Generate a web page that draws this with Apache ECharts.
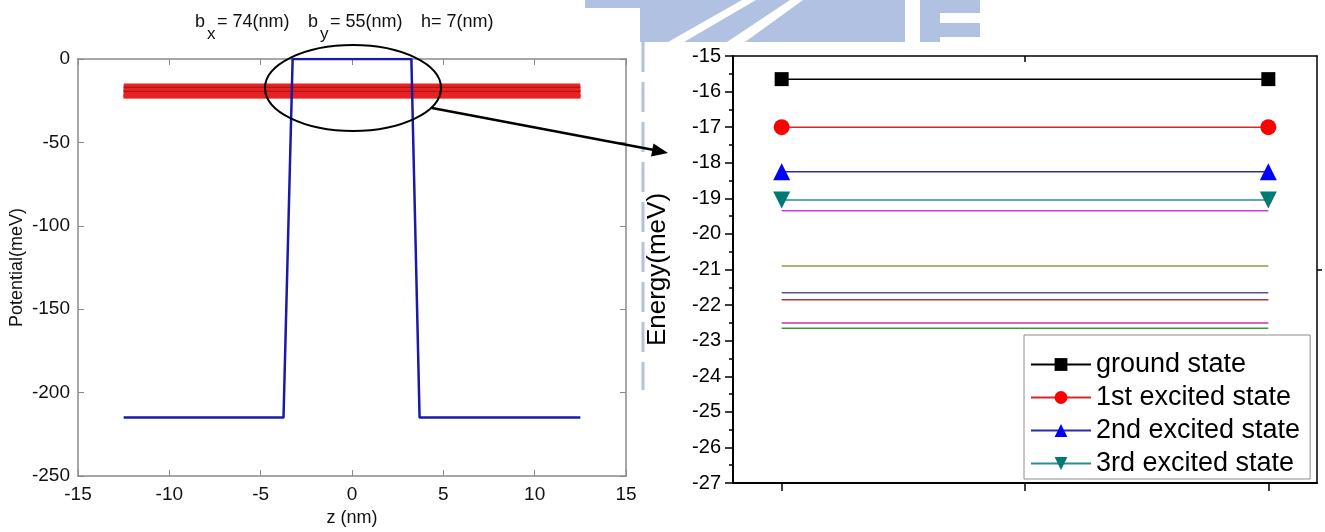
<!DOCTYPE html>
<html>
<head>
<meta charset="utf-8">
<script src="https://cdn.jsdelivr.net/npm/echarts@6/dist/echarts.min.js"></script>
<style>
  html, body { margin: 0; padding: 0; background: #fff; }
  #chart { width: 1325px; height: 532px; }
</style>
</head>
<body>
<div id="chart"></div>
<script>
// left panel: potential profile along z
const potZ = [-12.5, -3.75, -3.25, 3.25, 3.7, 12.5]
const potV = [-215, -215, 0, 0, -215, -215]
const bandZ = [-12.5, 12.5]

// energy levels (meV), first four are named in the legend
const levels = [-15.65, -17.0, -18.25, -19.05, -19.35, -20.9, -21.65, -21.85, -22.5, -22.65]
const stateNames = ['ground state', '1st excited state', '2nd excited state', '3rd excited state']
const levelX = [1, 2]

const font = 'Liberation Sans, Arial, sans-serif'
const gray = '#8a8a8a'

// styles for each right-panel level
const lineColors = ['#000000', '#d42a2a', '#2a2ab0', '#2a8f8f', '#d040d0', '#999940', '#555599', '#994040', '#cc3399', '#3a9a3a']
const markColors = ['#000000', '#ff0000', '#0000ff', '#007b73']
const markSymbols = ['rect', 'circle', 'triangle', 'triangle']
const markRotate = [0, 0, 0, 180]
const markSize = [14, 16, 17, 17]

const chart = echarts.init(document.getElementById('chart'))

const series = []

// red band of levels on the potential plot
levels.forEach((e, i) => {
  series.push({
    type: 'line',
    xAxisIndex: 0,
    yAxisIndex: 0,
    data: bandZ.map(z => [z, e]),
    symbol: 'none',
    silent: true,
    lineStyle: { color: '#e82323', width: 3.2 },
    z: 2
  })
})
// a couple of darker strands inside the band
;[1, 4].forEach(i => {
  series.push({
    type: 'line',
    xAxisIndex: 0,
    yAxisIndex: 0,
    data: bandZ.map(z => [z, levels[i]]),
    symbol: 'none',
    silent: true,
    lineStyle: { color: '#b31414', width: 1.2 },
    z: 2
  })
})

series.push({
  type: 'line',
  xAxisIndex: 0,
  yAxisIndex: 0,
  data: potZ.map((z, i) => [z, potV[i]]),
  symbol: 'none',
  lineStyle: { color: '#1a1aa8', width: 2.5 },
  z: 3
})

// energy levels on the right plot
levels.forEach((e, i) => {
  const named = i < stateNames.length
  series.push({
    name: named ? stateNames[i] : 'level ' + (i + 1),
    type: 'line',
    xAxisIndex: 2,
    yAxisIndex: 2,
    data: levelX.map(x => [x, e]),
    symbol: named ? markSymbols[i] : 'none',
    symbolSize: named ? markSize[i] : 0,
    symbolRotate: named ? markRotate[i] : 0,
    itemStyle: { color: named ? markColors[i] : lineColors[i] },
    lineStyle: { color: lineColors[i], width: 1.5 },
    z: named ? 5 : 4
  })
})

const wm = '#b0c1e2'

const option = {
  animation: false,
  backgroundColor: '#fff',
  textStyle: { fontFamily: font },
  grid: [
    { left: 78, top: 59, width: 548, height: 420 },
    { left: 733, top: 56, width: 584, height: 427 }
  ],
  xAxis: [
    {
      gridIndex: 0, type: 'value', min: -15, max: 15, interval: 5,
      name: 'z (nm)', nameLocation: 'middle', nameGap: 33,
      nameTextStyle: { fontSize: 18, color: '#111', fontFamily: font },
      axisLine: { onZero: false, lineStyle: { color: gray, width: 1.5 } },
      axisTick: { inside: true, length: 6, lineStyle: { color: gray } },
      axisLabel: { fontSize: 19, color: '#111', margin: 9, fontFamily: font },
      splitLine: { show: false }
    },
    {
      gridIndex: 0, type: 'value', min: -15, max: 15, interval: 5, position: 'top',
      axisLine: { onZero: false, lineStyle: { color: gray, width: 1.5 } },
      axisTick: { inside: true, length: 6, lineStyle: { color: gray } },
      axisLabel: { show: false },
      splitLine: { show: false }
    },
    {
      gridIndex: 1, type: 'value', min: 0.9, max: 2.1,
      axisLine: { onZero: false, lineStyle: { color: '#000', width: 2 } },
      axisTick: { length: 8, customValues: [1, 1.5, 2], lineStyle: { color: '#000', width: 1.5 } },
      axisLabel: { show: false },
      splitLine: { show: false }
    },
    {
      gridIndex: 1, type: 'value', min: 0.9, max: 2.1, position: 'top',
      axisLine: { onZero: false, lineStyle: { color: '#000', width: 1.5 } },
      axisTick: { inside: true, length: 6, customValues: [1.5], lineStyle: { color: '#000', width: 1.5 } },
      axisLabel: { show: false },
      splitLine: { show: false }
    }
  ],
  yAxis: [
    {
      gridIndex: 0, type: 'value', min: -250, max: 0, interval: 50,
      name: 'Potential(meV)', nameLocation: 'middle', nameGap: 52,
      nameTextStyle: { fontSize: 18, color: '#111', fontFamily: font },
      axisLine: { onZero: false, lineStyle: { color: gray, width: 1.5 } },
      axisTick: { inside: true, length: 6, lineStyle: { color: gray } },
      axisLabel: { fontSize: 19, color: '#111', margin: 8, fontFamily: font },
      splitLine: { show: false }
    },
    {
      gridIndex: 0, type: 'value', min: -250, max: 0, interval: 50, position: 'right',
      axisLine: { onZero: false, lineStyle: { color: gray, width: 1.5 } },
      axisTick: { inside: true, length: 6, lineStyle: { color: gray } },
      axisLabel: { show: false },
      splitLine: { show: false }
    },
    {
      gridIndex: 1, type: 'value', min: -27, max: -15, interval: 1,
      name: 'Energy(meV)', nameLocation: 'middle', nameGap: 62,
      nameTextStyle: { fontSize: 26, color: '#000', fontFamily: font },
      axisLine: { onZero: false, lineStyle: { color: '#000', width: 2 } },
      axisTick: { length: 8, lineStyle: { color: '#000', width: 1.5 } },
      minorTick: { show: true, splitNumber: 2, length: 4, lineStyle: { color: '#000', width: 1.5 } },
      axisLabel: { fontSize: 20, color: '#000', margin: 12, fontFamily: font },
      splitLine: { show: false },
      minorSplitLine: { show: false }
    },
    {
      gridIndex: 1, type: 'value', min: -27, max: -15, interval: 1, position: 'right',
      axisLine: { onZero: false, lineStyle: { color: '#000', width: 1.5 } },
      axisTick: { length: 5, customValues: [-21], lineStyle: { color: '#000', width: 1.5 } },
      axisLabel: { show: false },
      splitLine: { show: false }
    }
  ],
  legend: {
    data: stateNames,
    orient: 'vertical',
    left: 1024,
    top: 335,
    padding: [16, 10, 2, 6],
    itemGap: 6,
    itemWidth: 60,
    itemHeight: 16,
    borderColor: '#8c8c8c',
    borderWidth: 1,
    borderRadius: 0,
    backgroundColor: '#fff',
    textStyle: { fontSize: 27, color: '#000', fontFamily: font }
  },
  graphic: [
    // faint watermark behind the figure
    { type: 'polygon', z: -10, silent: true, shape: { points: [[585, 0], [742, 0], [668, 42], [640, 42], [640, 8], [585, 8]] }, style: { fill: wm } },
    { type: 'polygon', z: -10, silent: true, shape: { points: [[756, 0], [790, 0], [727, 42], [684, 42]] }, style: { fill: wm } },
    { type: 'polygon', z: -10, silent: true, shape: { points: [[803, 0], [905, 0], [905, 42], [745, 42]] }, style: { fill: wm } },
    { type: 'rect', z: -10, silent: true, shape: { x: 920, y: 0, width: 20, height: 42 }, style: { fill: wm } },
    { type: 'rect', z: -10, silent: true, shape: { x: 940, y: 0, width: 40, height: 13 }, style: { fill: wm } },
    { type: 'rect', z: -10, silent: true, shape: { x: 940, y: 23, width: 40, height: 14 }, style: { fill: wm } },
    { type: 'line', z: -10, silent: true, shape: { x1: 643, y1: 42, x2: 643, y2: 390 }, style: { stroke: wm, lineWidth: 3, lineDash: [30, 10] } },

    // title of the potential plot
    { type: 'text', left: 195, top: 13, style: { text: 'b', font: '18px ' + font, fill: '#111' } },
    { type: 'text', left: 207, top: 26, style: { text: 'x', font: '17px ' + font, fill: '#111' } },
    { type: 'text', left: 217, top: 13, style: { text: '= 74(nm)', font: '18px ' + font, fill: '#111' } },
    { type: 'text', left: 308, top: 13, style: { text: 'b', font: '18px ' + font, fill: '#111' } },
    { type: 'text', left: 320, top: 26, style: { text: 'y', font: '17px ' + font, fill: '#111' } },
    { type: 'text', left: 330, top: 13, style: { text: '= 55(nm)', font: '18px ' + font, fill: '#111' } },
    { type: 'text', left: 421, top: 13, style: { text: 'h= 7(nm)', font: '18px ' + font, fill: '#111' } },

    // zoom ellipse and arrow
    { type: 'ellipse', z: 100, silent: true, shape: { cx: 353, cy: 88, rx: 88, ry: 43 }, style: { fill: null, stroke: '#000', lineWidth: 2 } },
    { type: 'line', z: 100, silent: true, shape: { x1: 432, y1: 108, x2: 654, y2: 150 }, style: { stroke: '#000', lineWidth: 2.5 } },
    { type: 'polygon', z: 100, silent: true, shape: { points: [[668, 153], [651, 156.5], [653.5, 143.5]] }, style: { fill: '#000' } }
  ],
  series: series
}

chart.setOption(option)
</script>
</body>
</html>
